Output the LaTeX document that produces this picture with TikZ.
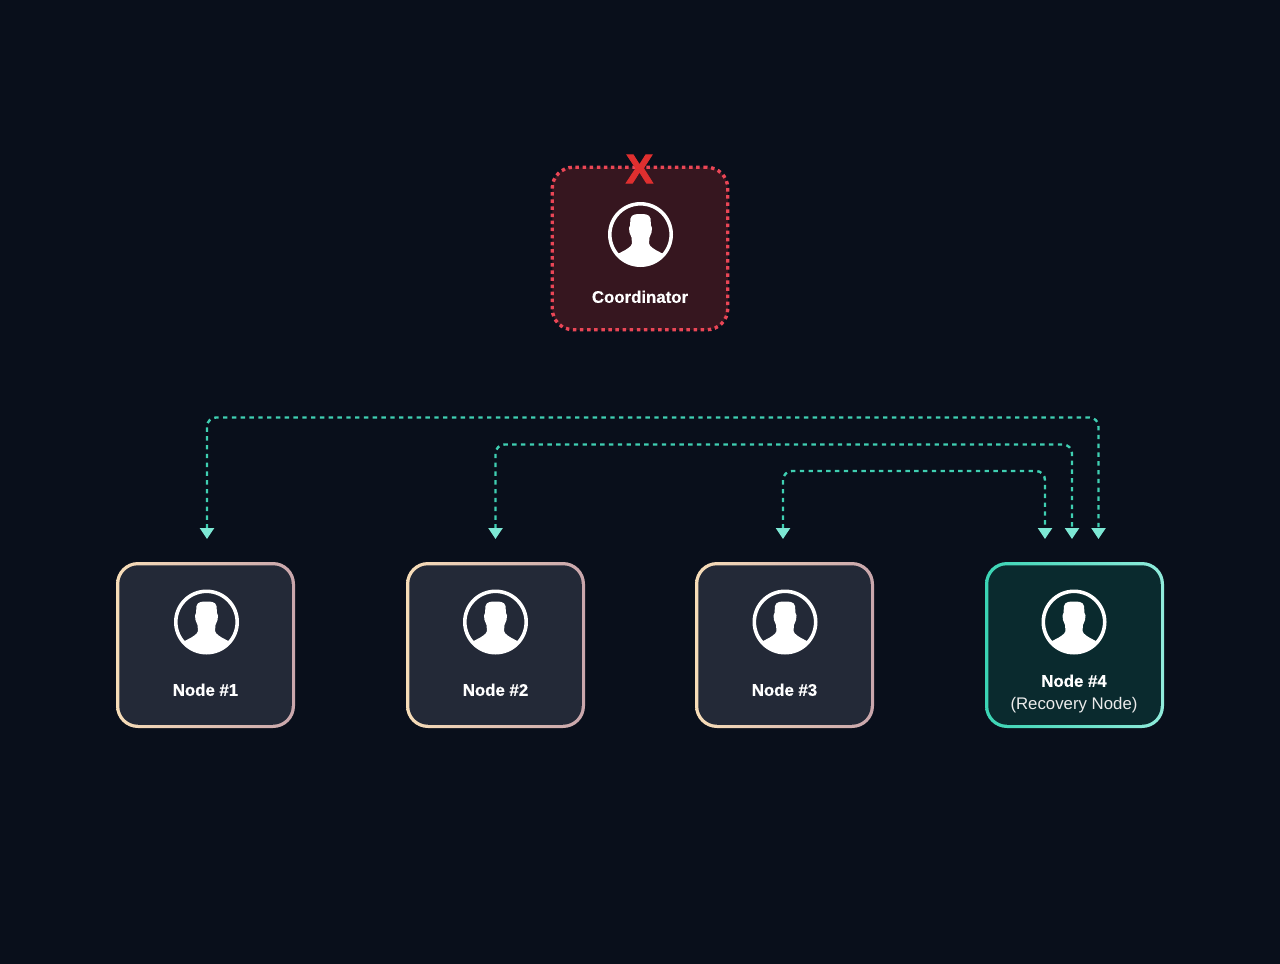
\documentclass[tikz,border=0pt]{standalone}
\usepackage{fontspec}
\setmainfont[BoldFeatures={FakeBold=0.35}]{Liberation Sans}
\newfontfamily\crossfont[FakeBold=2.2]{Liberation Sans Bold}
\usetikzlibrary{arrows.meta,calc}
\definecolor{bgc}{HTML}{090F1B}
\definecolor{nodefill}{HTML}{232937}
\definecolor{recfill}{HTML}{0A2A2E}
\definecolor{coordfill}{HTML}{36161F}
\definecolor{dotred}{HTML}{EA4656}
\definecolor{xred}{HTML}{DF2F2F}
\definecolor{peach}{HTML}{F7DDB8}
\definecolor{mauve}{HTML}{C9A6AC}
\definecolor{tealA}{HTML}{3BD4B4}
\definecolor{tealB}{HTML}{90EBDB}
\definecolor{linkc}{HTML}{3FCFB2}
\definecolor{tipc}{HTML}{7DE8D5}
\tikzset{
  x=1pt,y=-1pt,
  outerbox/.style={minimum width=179pt,minimum height=166pt,inner sep=0pt,outer sep=0pt,rounded corners=22pt},
  peerouter/.style={outerbox,left color=peach,right color=mauve},
  recouter/.style={outerbox,left color=tealA,right color=tealB},
  innerbox/.style={minimum width=172.5pt,minimum height=159.5pt,inner sep=0pt,outer sep=0pt,rounded corners=19pt},
  peerbox/.style={innerbox,fill=nodefill},
  recbox/.style={innerbox,fill=recfill},
  coordbox/.style={minimum width=175.5pt,minimum height=162.5pt,inner sep=0pt,outer sep=0pt,rounded corners=21pt,fill=coordfill,draw=dotred,line width=3.4pt,dash pattern=on 3.5pt off 3.6pt},
  boldlabel/.style={text=white,inner sep=0pt,font=\fontsize{16.8}{18}\selectfont\bfseries},
  lightlabel/.style={text=white!92!black,inner sep=0pt,font=\fontsize{16.8}{18}\selectfont},
  crossmark/.style={text=xred,inner sep=0pt,font=\fontsize{41}{41}\selectfont\crossfont},
  link/.style={draw=linkc,line width=2.4pt,dash pattern=on 4.4pt off 4.4pt,rounded corners=9pt,
    {Triangle[length=11pt,width=14pt,color=tipc,fill=tipc]}-{Triangle[length=11pt,width=14pt,color=tipc,fill=tipc]}},
  pics/personicon/.style={code={
    \begin{scope}
      \clip (0,0) circle[radius=31];
      \fill[white] (0,-20.5) .. controls (4,-20.5) and (9,-20.5) .. (10,-16)
        -- (10.5,-9) -- (11.5,-6.5) -- (11,-2) .. controls (10.5,0) and (9.5,1) .. (9,3)
        -- (8.5,9) .. controls (9,12) and (14,15) .. (19,17.5)
        -- (25,20.5) -- (40,40) -- (-40,40) -- (-25,20.5) -- (-19,17.5)
        .. controls (-14,15) and (-9,12) .. (-8.5,9)
        -- (-9,3) .. controls (-9.5,1) and (-10.5,0) .. (-11,-2)
        -- (-11.5,-6.5) -- (-10.5,-9) -- (-10,-16)
        .. controls (-9,-20.5) and (-4,-20.5) .. (0,-20.5) -- cycle;
    \end{scope}
    \draw[white,line width=3.6pt] (0,0) circle[radius=30.7];
  }}
}
\begin{document}
\begin{tikzpicture}
\useasboundingbox (0,0) rectangle (1280,964);
\fill[bgc] (0,0) rectangle (1280,964);

% coordinator
\node[coordbox] (coord) at (640,248.5) {};
\pic at (640.5,234.5) {personicon};
\node[boldlabel] (coordlabel) at (640,296.8) {Coordinator};
\node[crossmark] (cross) at (639.5,169) {X};

% peers
\node[peerouter] (n1o) at (205.5,645) {};
\node[peerbox] (n1) at (205.5,645) {};
\pic at (206.5,622) {personicon};
\node[boldlabel] (n1label) at (205.5,689.8) {Node \#1};

\node[peerouter] (n2o) at (495.5,645) {};
\node[peerbox] (n2) at (495.5,645) {};
\pic at (495.5,622) {personicon};
\node[boldlabel] (n2label) at (495.5,689.8) {Node \#2};

\node[peerouter] (n3o) at (784.5,645) {};
\node[peerbox] (n3) at (784.5,645) {};
\pic at (785,622) {personicon};
\node[boldlabel] (n3label) at (784.5,689.8) {Node \#3};

\node[recouter] (n4o) at (1074.5,645) {};
\node[recbox] (n4) at (1074.5,645) {};
\pic at (1074,622) {personicon};
\node[boldlabel] (n4label) at (1074,680.8) {Node \#4};
\node[lightlabel] (n4sub) at (1074,705) {(Recovery Node)};

% connector ends
\coordinate (a1) at (207,539);
\coordinate (a2) at (495.5,539);
\coordinate (a3) at (783,539);
\coordinate (b3) at (1045,539);
\coordinate (b2) at (1072,539);
\coordinate (b1) at (1098.5,539);

\draw[link] (a1) -- (a1 |- 0,417.5) -- (b1 |- 0,417.5) -- (b1);
\draw[link] (a2) -- (a2 |- 0,444.5) -- (b2 |- 0,444.5) -- (b2);
\draw[link] (a3) -- (a3 |- 0,471) -- (b3 |- 0,471) -- (b3);
\end{tikzpicture}
\end{document}
